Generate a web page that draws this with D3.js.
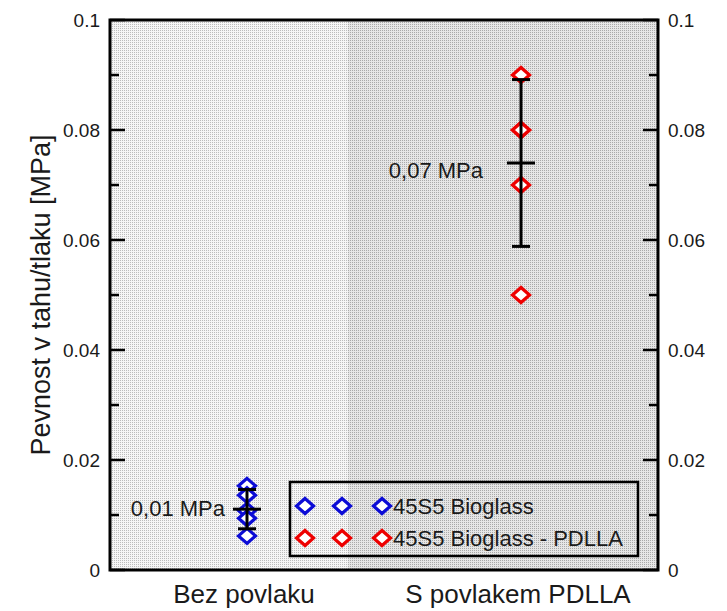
<!DOCTYPE html>
<html>
<head>
<meta charset="utf-8">
<script src="https://cdn.jsdelivr.net/npm/d3@7"></script>
<style>
  html, body { margin: 0; padding: 0; background: #fff; }
  svg { display: block; font-family: "Liberation Sans", Arial, sans-serif; }
</style>
</head>
<body>
<svg id="chart" width="727" height="611"></svg>
<script>
// Tensile/compressive strength measurements per sample group
const categories = ["Bez povlaku", "S povlakem PDLLA"];
const seriesNames = ["45S5 Bioglass", "45S5 Bioglass - PDLLA"];
const seriesColors = ["#0c0cd6", "#ee0000"];
const uncoatedValues = [0.0153, 0.0136, 0.0108, 0.0094, 0.0062];
const coatedValues = [0.09, 0.08, 0.08, 0.07, 0.05];
const majorTicks = [0, 0.02, 0.04, 0.06, 0.08, 0.1];
const majorTickLabels = ["0", "0.02", "0.04", "0.06", "0.08", "0.1"];
const minorTicks = [0.01, 0.03, 0.05, 0.07, 0.09];
const yTitle = "Pevnost v tahu/tlaku [MPa]";

const groups = [uncoatedValues, coatedValues];
// placement of the mean annotation relative to its bar: [dx, dy]
const meanLabelOffset = [[-22, 7], [-38, 15]];

const svg = d3.select("#chart");
const margin = { left: 110, right: 69, top: 20, bottom: 41 };
const W = 727, H = 611;
const pw = W - margin.left - margin.right;
const ph = H - margin.top - margin.bottom;

const x = d3.scaleBand().domain(categories).range([margin.left, margin.left + pw]).padding(0);
const y = d3.scaleLinear().domain([0, 0.1]).range([margin.top + ph, margin.top]);

// Stippled background fills
const defs = svg.append("defs");
function stipple(id, base, dot) {
  const p = defs.append("pattern").attr("id", id)
    .attr("patternUnits", "userSpaceOnUse").attr("width", 2).attr("height", 2);
  p.append("rect").attr("width", 2).attr("height", 2).attr("fill", base);
  p.append("rect").attr("width", 1).attr("height", 1).attr("fill", dot);
}
stipple("light", "#f6f6f6", "#bcbcbc");
stipple("dark", "#e6e6e6", "#a9a9a9");

const split = margin.left + pw * 0.434;
svg.append("rect").attr("x", margin.left).attr("y", margin.top)
  .attr("width", split - margin.left).attr("height", ph).attr("fill", "url(#light)");
svg.append("rect").attr("x", split).attr("y", margin.top)
  .attr("width", margin.left + pw - split).attr("height", ph).attr("fill", "url(#dark)");

// Diamond marker
const diamond = (hw, hh) => `M0,${-hh}L${hw},0L0,${hh}L${-hw},0Z`;
const markerPath = diamond(8.5, 7.5);

// Data points
groups.forEach((vals, i) => {
  const cx = x(categories[i]) + x.bandwidth() / 2;
  svg.append("g").selectAll("path").data(vals).join("path")
    .attr("d", markerPath)
    .attr("transform", d => `translate(${cx},${y(d)})`)
    .attr("fill", "#ffffff")
    .attr("stroke", seriesColors[i])
    .attr("stroke-width", 3.2);
});

// Mean ± standard deviation bars with mean labels
const fmt = v => d3.format(".2f")(v).replace(".", ",") + " MPa";
groups.forEach((vals, i) => {
  const cx = x(categories[i]) + x.bandwidth() / 2;
  const m = d3.mean(vals), sd = d3.deviation(vals);
  const g = svg.append("g").attr("stroke", "#000").attr("stroke-width", 3);
  g.append("line").attr("x1", cx).attr("x2", cx).attr("y1", y(m + sd)).attr("y2", y(m - sd));
  g.append("line").attr("x1", cx - 9).attr("x2", cx + 9).attr("y1", y(m + sd)).attr("y2", y(m + sd));
  g.append("line").attr("x1", cx - 9).attr("x2", cx + 9).attr("y1", y(m - sd)).attr("y2", y(m - sd));
  g.append("line").attr("x1", cx - 14).attr("x2", cx + 14).attr("y1", y(m)).attr("y2", y(m));
  const [dx, dy] = meanLabelOffset[i];
  svg.append("text").attr("x", cx + dx).attr("y", y(m) + dy)
    .attr("text-anchor", "end").attr("font-size", 22).attr("fill", "#1a1a1a")
    .text(fmt(m));
});

// Axes with inward ticks on both sides
const left = margin.left, right = margin.left + pw;
const tickG = svg.append("g").attr("stroke", "#000").attr("stroke-width", 2.5);
majorTicks.forEach(t => {
  tickG.append("line").attr("x1", left).attr("x2", left + 15).attr("y1", y(t)).attr("y2", y(t));
  tickG.append("line").attr("x1", right).attr("x2", right - 15).attr("y1", y(t)).attr("y2", y(t));
});
minorTicks.forEach(t => {
  tickG.append("line").attr("x1", left).attr("x2", left + 9).attr("y1", y(t)).attr("y2", y(t));
  tickG.append("line").attr("x1", right).attr("x2", right - 9).attr("y1", y(t)).attr("y2", y(t));
});

majorTicks.forEach((t, i) => {
  svg.append("text").attr("x", left - 10).attr("y", y(t) + 6.5)
    .attr("text-anchor", "end").attr("font-size", 19).attr("fill", "#1a1a1a")
    .text(majorTickLabels[i]);
  svg.append("text").attr("x", right + 10).attr("y", y(t) + 6.5)
    .attr("text-anchor", "start").attr("font-size", 19).attr("fill", "#1a1a1a")
    .text(majorTickLabels[i]);
});

// Plot frame
svg.append("rect").attr("x", left).attr("y", margin.top).attr("width", pw).attr("height", ph)
  .attr("fill", "none").attr("stroke", "#000").attr("stroke-width", 3);

// Category labels
categories.forEach(c => {
  svg.append("text").attr("x", x(c) + x.bandwidth() / 2 - 3).attr("y", 603)
    .attr("text-anchor", "middle").attr("font-size", 26).attr("fill", "#1a1a1a").text(c);
});

// Y axis title
svg.append("text")
  .attr("transform", `translate(50,${margin.top + ph / 2}) rotate(-90)`)
  .attr("text-anchor", "middle").attr("font-size", 27).attr("fill", "#1a1a1a")
  .text(yTitle);

// Legend
const lg = svg.append("g");
lg.append("rect").attr("x", 290).attr("y", 482).attr("width", 348).attr("height", 74)
  .attr("fill", "none").attr("stroke", "#000").attr("stroke-width", 2.5);
seriesNames.forEach((name, i) => {
  const ry = 506 + i * 32;
  [305, 342, 382].forEach(sx => {
    lg.append("path").attr("d", markerPath).attr("transform", `translate(${sx},${ry})`)
      .attr("fill", "#ffffff").attr("stroke", seriesColors[i]).attr("stroke-width", 3.2);
  });
  lg.append("text").attr("x", 393).attr("y", ry + 8).attr("font-size", 22)
    .attr("fill", "#1a1a1a").text(name);
});
</script>
</body>
</html>
